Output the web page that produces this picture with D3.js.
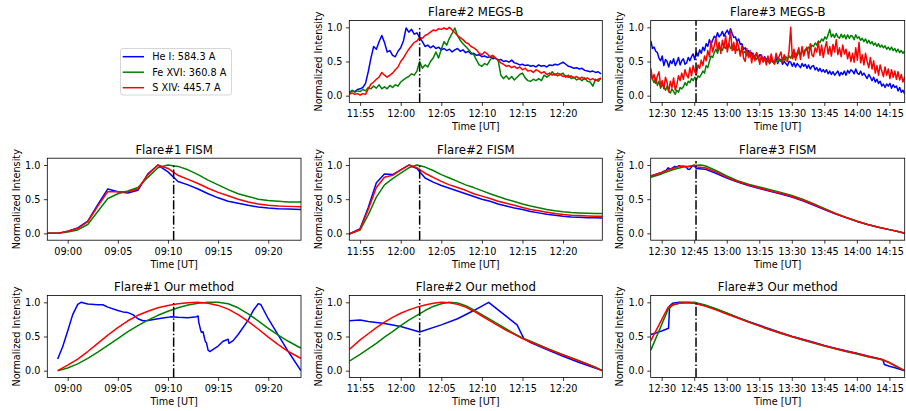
<!DOCTYPE html>
<html><head><meta charset="utf-8">
<script src="https://cdn.jsdelivr.net/npm/d3@7"></script>
<style>body{margin:0;background:#fff} svg text{font-family:"DejaVu Sans",sans-serif;fill:#000}</style>
</head><body><svg id="c" width="906" height="411"></svg>
<script>
// ---------------- DATA ----------------
const seriesNames = ["He I: 584.3 A", "Fe XVI: 360.8 A", "S XIV: 445.7 A"];
const yTicks = [0.0, 0.5, 1.0];
const flare1Ticks = ["09:00","09:05","09:10","09:15","09:20"];
const flare2Ticks = ["11:55","12:00","12:05","12:10","12:15","12:20"];
const flare3Ticks = ["12:30","12:45","13:00","13:15","13:30","13:45","14:00","14:15"];
const flare1Range = ["08:57:58","09:23:16"];
const flare2Range = ["11:53:40","12:24:50"];
const flare3Range = ["12:24:56","14:22:04"];
const flareOnsets = ["09:10:34","12:02:20","12:45:50"];

// Flare#2 MEGS-B (20 s cadence from 11:53:40)
const f2MegsStart = "11:53:40", f2MegsStepSec = 20;
const f2MegsHe = [0.05,0.07,0.06,0.09,0.10,0.12,0.18,0.35,0.55,0.72,
0.68,0.79,0.88,0.78,0.64,0.66,0.59,0.57,0.65,0.70,
0.80,0.99,0.93,0.97,0.90,0.92,0.85,0.79,0.72,0.74,
0.70,0.73,0.69,0.71,0.67,0.69,0.66,0.68,0.64,0.67,
0.69,0.65,0.67,0.63,0.65,0.61,0.62,0.59,0.60,0.57,
0.58,0.56,0.57,0.54,0.55,0.52,0.53,0.50,0.51,0.49,
0.52,0.48,0.47,0.45,0.46,0.44,0.45,0.43,0.44,0.42,
0.45,0.43,0.44,0.42,0.45,0.44,0.46,0.45,0.47,0.49,
0.46,0.43,0.42,0.40,0.41,0.39,0.40,0.37,0.36,0.35,
0.36,0.34,0.35,0.32];
const f2MegsFe = [0.03,0.08,0.05,0.07,0.06,0.09,0.07,0.12,0.10,0.14,
0.11,0.16,0.10,0.13,0.10,0.15,0.12,0.16,0.14,0.20,
0.23,0.26,0.28,0.32,0.30,0.36,0.50,0.40,0.45,0.42,
0.50,0.55,0.64,0.55,0.68,0.79,0.74,0.84,0.91,0.99,
0.88,0.81,0.76,0.72,0.68,0.63,0.60,0.52,0.45,0.43,
0.47,0.45,0.52,0.57,0.55,0.52,0.30,0.25,0.29,0.24,
0.28,0.23,0.27,0.31,0.33,0.26,0.22,0.21,0.24,0.22,
0.25,0.22,0.30,0.27,0.30,0.35,0.30,0.33,0.31,0.33,
0.27,0.30,0.25,0.27,0.23,0.25,0.22,0.26,0.21,0.20,
0.14,0.24,0.21,0.25];
const f2MegsS = [0.02,0.04,0.02,0.03,0.01,0.03,0.02,0.10,0.17,0.20,
0.24,0.27,0.34,0.30,0.27,0.30,0.33,0.38,0.42,0.50,
0.55,0.62,0.68,0.73,0.78,0.80,0.85,0.84,0.88,0.90,
0.93,0.96,0.95,0.98,0.97,0.99,0.97,1.00,0.96,0.92,
0.88,0.85,0.82,0.78,0.76,0.72,0.70,0.67,0.62,0.60,
0.64,0.61,0.57,0.59,0.55,0.52,0.48,0.46,0.43,0.44,
0.41,0.43,0.40,0.42,0.38,0.40,0.36,0.37,0.34,0.38,
0.36,0.33,0.35,0.31,0.33,0.30,0.32,0.29,0.31,0.28,
0.29,0.27,0.29,0.26,0.28,0.25,0.27,0.24,0.26,0.23,
0.25,0.22,0.24,0.26];

// Flare#3 MEGS-B (45 s cadence from 12:25:00)
const f3MegsStart = "12:25:00", f3MegsStepSec = 45;
const f3MegsHe = [0.80,0.69,0.71,0.65, 0.63,0.55,0.51,0.58, 0.44,0.53,0.50,0.42, 0.51,0.47,0.54,0.44, 0.49,0.56,0.45,0.51,
0.54,0.46,0.48,0.56, 0.51,0.57,0.61,0.53, 0.64,0.58,0.67,0.62, 0.71,0.66,0.76,0.72, 0.82,0.75,0.81,0.87,
0.84,0.92,0.86,0.89, 0.94,0.87,0.92,0.96, 0.90,0.98,0.91,0.85, 0.86,0.79,0.83,0.75, 0.76,0.68,0.70,0.63,
0.66,0.59,0.63,0.60, 0.56,0.62,0.55,0.60, 0.58,0.53,0.57,0.52, 0.56,0.50,0.55,0.51, 0.49,0.55,0.47,0.52,
0.53,0.46,0.50,0.47, 0.44,0.50,0.49,0.43, 0.48,0.42,0.47,0.44, 0.41,0.47,0.43,0.46, 0.40,0.45,0.39,0.43,
0.44,0.38,0.41,0.36, 0.40,0.35,0.38,0.34, 0.38,0.32,0.36,0.31, 0.35,0.30,0.33,0.36, 0.29,0.34,0.31,0.36,
0.30,0.37,0.33,0.38, 0.36,0.32,0.39,0.33, 0.31,0.36,0.30,0.33, 0.29,0.25,0.31,0.27, 0.22,0.27,0.20,0.24,
0.18,0.21,0.14,0.17, 0.12,0.17,0.14,0.18, 0.11,0.16,0.12,0.14, 0.07,0.12,0.05,0.08, 0.03];
const f3MegsFe = [0.32,0.24,0.19,0.26, 0.15,0.21,0.11,0.16, 0.13,0.08,0.14,0.06, 0.04,0.10,0.06,0.02, 0.08,0.05,0.12,0.10,
0.13,0.19,0.15,0.21, 0.19,0.25,0.22,0.27, 0.23,0.29,0.27,0.31, 0.36,0.33,0.44,0.41, 0.50,0.58,0.56,0.63,
0.68,0.62,0.71,0.67, 0.66,0.74,0.69,0.73, 0.76,0.69,0.72,0.67, 0.71,0.66,0.69,0.64, 0.67,0.62,0.65,0.59,
0.63,0.57,0.60,0.55, 0.58,0.53,0.56,0.51, 0.55,0.50,0.53,0.48, 0.52,0.47,0.51,0.49, 0.47,0.52,0.49,0.54,
0.50,0.55,0.52,0.57, 0.53,0.58,0.55,0.60, 0.56,0.62,0.59,0.64, 0.60,0.66,0.63,0.68, 0.66,0.71,0.69,0.74,
0.72,0.77,0.74,0.80, 0.78,0.83,0.80,0.86, 0.83,0.89,0.97,0.86, 0.90,0.85,0.91,0.86, 0.84,0.90,0.85,0.89,
0.83,0.89,0.84,0.88, 0.87,0.82,0.89,0.84, 0.86,0.81,0.84,0.79, 0.83,0.77,0.81,0.76, 0.79,0.74,0.77,0.72,
0.76,0.71,0.74,0.70, 0.73,0.68,0.71,0.67, 0.71,0.66,0.69,0.64, 0.68,0.63,0.66,0.62, 0.65];
const f3MegsS = [0.40,0.24,0.31,0.18, 0.29,0.35,0.14,0.22, 0.10,0.27,0.19,0.06, 0.21,0.12,0.26,0.08, 0.16,0.29,0.22,0.33,
0.24,0.38,0.30,0.26, 0.41,0.29,0.44,0.35, 0.31,0.45,0.40,0.52, 0.44,0.58,0.51,0.66, 0.57,0.80,0.64,0.73,
0.85,0.66,0.78,0.62, 0.81,0.70,0.88,0.64, 0.76,0.95,0.66,0.78, 0.62,0.80,0.71,0.58, 0.73,0.55,0.50,0.69,
0.56,0.66,0.48,0.62, 0.51,0.63,0.57,0.46, 0.60,0.49,0.56,0.45, 0.58,0.47,0.61,0.50, 0.46,0.62,0.53,0.58,
0.64,0.49,0.60,0.52, 0.50,0.66,1.00,0.54, 0.68,0.52,0.63,0.70, 0.53,0.72,0.58,0.66, 0.71,0.55,0.76,0.60,
0.57,0.70,0.64,0.78, 0.59,0.74,0.56,0.69, 0.79,0.61,0.72,0.58, 0.75,0.64,0.82,0.60, 0.70,0.57,0.74,0.61,
0.68,0.54,0.64,0.50, 0.62,0.49,0.70,0.52, 0.78,0.48,0.60,0.45, 0.62,0.50,0.41,0.56, 0.39,0.51,0.33,0.44,
0.30,0.45,0.36,0.28, 0.42,0.30,0.39,0.25, 0.38,0.27,0.36,0.24, 0.35,0.23,0.31,0.20, 0.27];

// Flare#1 FISM
const f1FismTime = ["08:58","08:59","09:00","09:01","09:02","09:03","09:04","09:05","09:06","09:07","09:08","09:09","09:10",
"09:11","09:12","09:13","09:14","09:15","09:16","09:17","09:18","09:19","09:20","09:21","09:22","09:23:16"];
const f1FismHe = [0.0,0.0,0.03,0.08,0.18,0.42,0.65,0.61,0.59,0.63,0.87,1.0,0.90,0.76,0.71,0.65,0.58,0.52,0.47,0.44,0.41,0.385,0.37,0.36,0.355,0.35];
const f1FismFe = [0.0,0.0,0.02,0.05,0.13,0.32,0.51,0.58,0.62,0.67,0.82,0.96,1.0,0.98,0.93,0.86,0.78,0.71,0.64,0.58,0.54,0.50,0.48,0.47,0.46,0.46];
const f1FismS  = [0.0,0.0,0.03,0.07,0.17,0.40,0.61,0.61,0.61,0.65,0.86,1.0,0.95,0.85,0.79,0.73,0.66,0.60,0.55,0.50,0.46,0.43,0.41,0.40,0.395,0.39];

// Flare#2 FISM
const f2FismTime = ["11:53:40","11:55","11:56","11:57","11:58","11:59","12:00","12:01","12:02","12:03","12:04","12:05","12:06","12:07",
"12:08","12:09","12:10","12:11","12:12","12:13","12:14","12:15","12:16","12:17","12:18","12:19","12:20","12:21","12:22","12:23","12:24","12:24:50"];
const f2FismHe = [-0.01,0.07,0.38,0.74,0.87,0.86,0.93,1.0,0.95,0.81,0.75,0.70,0.66,0.62,0.58,0.54,0.50,0.47,0.43,0.40,0.37,0.35,0.32,0.30,0.28,0.265,0.25,0.24,0.235,0.23,0.227,0.225];
const f2FismFe = [-0.01,0.05,0.27,0.53,0.71,0.80,0.88,0.96,1.0,0.97,0.92,0.86,0.81,0.76,0.71,0.67,0.625,0.58,0.54,0.50,0.465,0.43,0.40,0.375,0.35,0.33,0.315,0.305,0.298,0.293,0.29,0.29];
const f2FismS  = [-0.01,0.06,0.35,0.67,0.82,0.85,0.93,1.0,0.96,0.88,0.82,0.76,0.71,0.67,0.63,0.58,0.545,0.51,0.47,0.44,0.41,0.38,0.35,0.33,0.31,0.29,0.275,0.265,0.26,0.255,0.252,0.25];

// Flare#3 FISM
const f3FismHeTime = ["12:25","12:28","12:30","12:31","12:32","12:33","12:34","12:35","12:36","12:37","12:38","12:39","12:40","12:41","12:42","12:43","12:44","12:45","12:46",
"12:50","12:55","13:00","13:05","13:10","13:15","13:20","13:25","13:30","13:35","13:40","13:45","13:50","13:55","14:00","14:05","14:10","14:15","14:20","14:22"];
const f3FismHe = [0.84,0.87,0.89,0.91,0.92,0.96,0.94,0.96,0.98,0.97,0.99,0.98,0.98,0.98,0.94,0.94,0.98,0.99,0.95,
0.94,0.88,0.81,0.75,0.70,0.655,0.615,0.575,0.53,0.475,0.415,0.35,0.285,0.23,0.175,0.13,0.09,0.055,0.02,0.0];
const f3FismFeTime = ["12:25","12:30","12:35","12:40","12:45","12:48","12:50","12:55","13:00","13:05","13:10","13:15","13:20","13:25","13:30",
"13:35","13:40","13:45","13:50","13:55","14:00","14:05","14:10","14:15","14:20","14:22"];
const f3FismFe = [0.82,0.87,0.93,0.97,0.995,1.0,0.99,0.92,0.84,0.77,0.72,0.68,0.64,0.60,0.555,0.50,0.435,0.365,0.295,0.235,0.18,0.13,0.09,0.055,0.02,0.0];
const f3FismSTime = ["12:25","12:30","12:33","12:35","12:38","12:40","12:42","12:43","12:45","12:46","12:50","12:55","13:00","13:05","13:10","13:15","13:20",
"13:25","13:30","13:35","13:40","13:45","13:50","13:55","14:00","14:05","14:10","14:15","14:20","14:22"];
const f3FismS = [0.84,0.89,0.93,0.95,0.98,0.985,0.97,0.98,1.0,0.97,0.96,0.90,0.82,0.76,0.71,0.665,0.625,0.585,0.54,0.485,0.425,0.355,0.29,0.23,0.178,0.13,0.09,0.055,0.02,0.0];

// Flare#1 Our method
const f1OurHeTime = ["08:59:00","08:59:30","09:00:00","09:00:30","09:01:00","09:01:20","09:02:00","09:03:00","09:03:30","09:04:00","09:05:00","09:05:30",
"09:06:00","09:06:30","09:07:00","09:07:30","09:08:00","09:09:00","09:10:00","09:10:20","09:11:00","09:12:00","09:12:50","09:13:00","09:13:05",
"09:13:15","09:13:20","09:13:30","09:13:40","09:13:45","09:13:50","09:14:00","09:14:10","09:15:00","09:15:30","09:16:00","09:16:05","09:16:30",
"09:17:00","09:18:00","09:18:30","09:19:00","09:19:15","09:20:00","09:21:00","09:22:00","09:23:15"];
const f1OurHe = [0.17,0.35,0.58,0.82,0.97,1.0,0.975,0.965,0.965,0.93,0.88,0.86,0.85,0.82,0.76,0.73,0.735,0.76,0.78,0.79,0.78,0.775,0.79,0.80,0.70,
0.60,0.56,0.57,0.46,0.42,0.41,0.30,0.28,0.36,0.43,0.46,0.40,0.44,0.53,0.74,0.88,0.98,0.97,0.76,0.52,0.28,0.0];
const f1OurTime = ["08:59","09:00","09:01","09:02","09:03","09:04","09:05","09:06","09:07","09:08","09:09","09:10","09:11","09:12","09:13","09:14",
"09:15","09:16","09:17","09:18","09:19","09:20","09:21","09:22","09:23","09:23:15"];
const f1OurFe = [0.0,0.04,0.10,0.18,0.27,0.37,0.47,0.57,0.66,0.74,0.81,0.87,0.92,0.96,0.985,1.0,1.0,0.98,0.92,0.83,0.73,0.62,0.52,0.43,0.35,0.33];
const f1OurS  = [0.0,0.08,0.17,0.28,0.40,0.52,0.63,0.73,0.81,0.87,0.92,0.955,0.98,0.995,1.0,0.985,0.955,0.90,0.82,0.72,0.61,0.49,0.38,0.28,0.20,0.18];

// Flare#2 Our method
const f2OurHeTime = ["11:53:40","11:55","11:56","11:58","12:00","12:02:20","12:05","12:07","12:09","12:10:50","12:14:20","12:15:10","12:16","12:18","12:20","12:22","12:24:50"];
const f2OurHe = [0.73,0.74,0.72,0.69,0.645,0.565,0.67,0.76,0.88,1.0,0.67,0.47,0.41,0.31,0.21,0.12,0.0];
const f2OurTime = ["11:53:40","11:55","11:56","11:57","11:58","11:59","12:00","12:01","12:02","12:03","12:04","12:05","12:06","12:07","12:08","12:09",
"12:10","12:11","12:12","12:13","12:14","12:15","12:16","12:17","12:18","12:19","12:20","12:21","12:22","12:23","12:24","12:24:50"];
const f2OurFe = [0.14,0.24,0.32,0.40,0.49,0.57,0.66,0.74,0.81,0.88,0.94,0.98,1.0,0.99,0.95,0.89,0.82,0.75,0.68,0.61,0.54,0.48,0.43,0.38,0.33,0.28,0.235,0.19,0.145,0.10,0.05,0.0];
const f2OurS  = [0.31,0.45,0.54,0.63,0.71,0.78,0.84,0.89,0.93,0.96,0.985,1.0,0.995,0.97,0.93,0.87,0.80,0.73,0.66,0.59,0.53,0.47,0.42,0.37,0.32,0.275,0.23,0.185,0.14,0.095,0.045,0.0];

// Flare#3 Our method
const f3OurHeTime = ["12:25","12:30","12:33:10","12:33:40","12:35","12:38","12:42","12:45","12:50","12:55","13:00","13:05","13:10","13:15","13:20","13:25",
"13:30","13:35","13:40","13:45","13:50","13:55","14:00","14:05","14:10","14:12","14:12:40","14:15","14:18","14:22"];
const f3OurHe = [0.53,0.58,0.62,0.95,0.985,1.0,1.0,0.99,0.955,0.90,0.84,0.78,0.72,0.665,0.61,0.555,0.505,0.46,0.415,0.37,0.33,0.29,0.255,0.215,0.18,0.16,0.09,0.065,0.04,0.0];
const f3OurTime = ["12:25","12:33","12:35","12:38","12:42","12:45","12:50","12:55","13:00","13:05","13:10","13:15","13:20","13:25","13:30","13:35","13:40",
"13:45","13:50","13:55","14:00","14:05","14:10","14:12","14:15","14:18","14:22"];
const f3OurFe = [0.30,0.90,0.955,0.985,0.998,1.0,0.96,0.905,0.845,0.78,0.715,0.655,0.60,0.545,0.495,0.45,0.405,0.36,0.32,0.28,0.245,0.205,0.17,0.155,0.115,0.065,0.0];
const f3OurS  = [0.44,0.93,0.965,0.985,0.995,0.985,0.945,0.89,0.83,0.77,0.71,0.655,0.60,0.55,0.50,0.455,0.41,0.365,0.325,0.285,0.25,0.21,0.175,0.16,0.12,0.07,0.0];

// ---------------- DRAWING ----------------
const colors = ["#0000ff", "#008000", "#ff0000"];
const parseT = d3.utcParse("%H:%M:%S");
const T = s => parseT(s.length === 5 ? s + ":00" : s);
const regular = (start, step, vals) => vals.map((v, i) => new Date(T(start).getTime() + i * step * 1000));

const svg = d3.select("#c");
const cols = [[47.3, 301], [349.3, 602.3], [650.7, 904.7]];
const rows = [[20.5, 102.5], [158.2, 240.2], [295.5, 377.5]];

function panel(p) {
  const [x0, x1] = cols[p.col], [y0, y1] = rows[p.row];
  const x = d3.scaleUtc().domain(p.range.map(T)).range([x0, x1]);
  const y = d3.scaleLinear().domain([-0.1, 1.1]).range([y1, y0]);
  const id = "clip" + p.row + "_" + p.col;
  svg.append("clipPath").attr("id", id).append("rect")
    .attr("x", x0).attr("y", y0).attr("width", x1 - x0).attr("height", y1 - y0);
  const g = svg.append("g");
  const plot = g.append("g").attr("clip-path", `url(#${id})`);
  const line = d3.line().x(d => x(d[0])).y(d => y(d[1]));
  p.series.forEach((s, i) => {
    const pts = s.t.map((t, j) => [t, s.v[j]]);
    plot.append("path").datum(pts).attr("d", line)
      .attr("fill", "none").attr("stroke", colors[i]).attr("stroke-width", 1.5)
      .attr("stroke-linejoin", "round");
  });
  const xo = x(T(p.onset));
  plot.append("line").attr("x1", xo).attr("x2", xo).attr("y1", y1).attr("y2", y(p.onsetTop))
    .attr("stroke", "#000").attr("stroke-width", 1.5).attr("stroke-dasharray", "9.3,2.3,1.45,2.3");

  const xa = g.append("g").attr("transform", `translate(0,${y1})`)
    .call(d3.axisBottom(x).tickValues(p.ticks.map(T)).tickFormat((d, i) => p.ticks[i]).tickSize(3.4).tickPadding(4.5));
  const ya = g.append("g").attr("transform", `translate(${x0},0)`)
    .call(d3.axisLeft(y).tickValues(yTicks).tickFormat(d3.format(".1f")).tickSize(3.4).tickPadding(3.4));
  [xa, ya].forEach(a => {
    a.select(".domain").remove();
    a.attr("font-family", null).attr("font-size", null);
    a.selectAll("line").attr("stroke", "#000").attr("stroke-width", 0.8);
    a.selectAll("text").style("font-size", "9.7px").attr("fill", "#000");
  });
  g.append("rect").attr("x", x0).attr("y", y0).attr("width", x1 - x0).attr("height", y1 - y0)
    .attr("fill", "none").attr("stroke", "#000").attr("stroke-width", 0.8);
  g.append("text").attr("x", (x0 + x1) / 2).attr("y", y0 - 4.5).attr("text-anchor", "middle")
    .style("font-size", "11.7px").text(p.title);
  g.append("text").attr("x", (x0 + x1) / 2).attr("y", y1 + 27.5).attr("text-anchor", "middle")
    .style("font-size", "9.7px").text("Time [UT]");
  g.append("text").attr("transform", `translate(${x0 - 27.3},${(y0 + y1) / 2}) rotate(-90)`)
    .attr("text-anchor", "middle").style("font-size", "9.7px").text("Normalized Intensity");
}

panel({row: 0, col: 1, title: "Flare#2 MEGS-B", range: flare2Range, ticks: flare2Ticks, onset: flareOnsets[1], onsetTop: 1.0,
  series: [f2MegsHe, f2MegsFe, f2MegsS].map(v => ({t: regular(f2MegsStart, f2MegsStepSec, v), v}))});
panel({row: 0, col: 2, title: "Flare#3 MEGS-B", range: flare3Range, ticks: flare3Ticks, onset: flareOnsets[2], onsetTop: 1.1,
  series: [f3MegsHe, f3MegsFe, f3MegsS].map(v => ({t: regular(f3MegsStart, f3MegsStepSec, v), v}))});
panel({row: 1, col: 0, title: "Flare#1 FISM", range: flare1Range, ticks: flare1Ticks, onset: flareOnsets[0], onsetTop: 1.0,
  series: [f1FismHe, f1FismFe, f1FismS].map(v => ({t: f1FismTime.map(T), v}))});
panel({row: 1, col: 1, title: "Flare#2 FISM", range: flare2Range, ticks: flare2Ticks, onset: flareOnsets[1], onsetTop: 1.0,
  series: [f2FismHe, f2FismFe, f2FismS].map(v => ({t: f2FismTime.map(T), v}))});
panel({row: 1, col: 2, title: "Flare#3 FISM", range: flare3Range, ticks: flare3Ticks, onset: flareOnsets[2], onsetTop: 1.06,
  series: [{t: f3FismHeTime.map(T), v: f3FismHe}, {t: f3FismFeTime.map(T), v: f3FismFe}, {t: f3FismSTime.map(T), v: f3FismS}]});
panel({row: 2, col: 0, title: "Flare#1 Our method", range: flare1Range, ticks: flare1Ticks, onset: flareOnsets[0], onsetTop: 1.0,
  series: [{t: f1OurHeTime.map(T), v: f1OurHe}, {t: f1OurTime.map(T), v: f1OurFe}, {t: f1OurTime.map(T), v: f1OurS}]});
panel({row: 2, col: 1, title: "Flare#2 Our method", range: flare2Range, ticks: flare2Ticks, onset: flareOnsets[1], onsetTop: 1.05,
  series: [{t: f2OurHeTime.map(T), v: f2OurHe}, {t: f2OurTime.map(T), v: f2OurFe}, {t: f2OurTime.map(T), v: f2OurS}]});
panel({row: 2, col: 2, title: "Flare#3 Our method", range: flare3Range, ticks: flare3Ticks, onset: flareOnsets[2], onsetTop: 1.0,
  series: [{t: f3OurHeTime.map(T), v: f3OurHe}, {t: f3OurTime.map(T), v: f3OurFe}, {t: f3OurTime.map(T), v: f3OurS}]});

// Legend
const lg = svg.append("g");
lg.append("rect").attr("x", 120.5).attr("y", 48.5).attr("width", 111).attr("height", 46.5).attr("rx", 2.5)
  .attr("fill", "#fff").attr("stroke", "#cccccc").attr("stroke-width", 0.8);
seriesNames.forEach((name, i) => {
  const yy = 56.7 + i * 15.5;
  lg.append("line").attr("x1", 122.7).attr("x2", 144).attr("y1", yy).attr("y2", yy)
    .attr("stroke", colors[i]).attr("stroke-width", 1.5);
  lg.append("text").attr("x", 152.3).attr("y", yy).attr("dy", "0.35em").style("font-size", "9.7px").text(name);
});
</script></body></html>
